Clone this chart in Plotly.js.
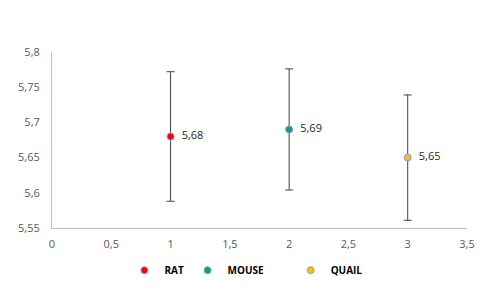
<!DOCTYPE html>
<html>
<head>
<meta charset="utf-8">
<script src="https://cdn.plot.ly/plotly-3.0.1.min.js"></script>
<style>html,body{margin:0;padding:0;background:#fff;}#chart{width:486px;height:285px;}</style>
</head>
<body>
<div id="chart"></div>
<script>
const seriesNames = ["RAT", "MOUSE", "QUAIL"];
const xValues = [1, 2, 3];
const yValues = [5.68, 5.69, 5.65];
const errPlus = [0.092, 0.086, 0.089];
const errMinus = [0.092, 0.086, 0.089];
const colors = ["#FF0000", "#12A070", "#FFC000"];
const xTicks = [0, 0.5, 1, 1.5, 2, 2.5, 3, 3.5];
const yTicks = [5.55, 5.6, 5.65, 5.7, 5.75, 5.8];
const legendIds = ["legend", "legend2", "legend3"];
const legendX = [0.256, 0.386, 0.598];

const fmt = v => String(v).replace('.', ',');

const traces = seriesNames.map((name, i) => ({
  type: 'scatter',
  mode: 'markers+text',
  name: name,
  legend: legendIds[i],
  x: [xValues[i]],
  y: [yValues[i]],
  text: ['  ' + fmt(yValues[i])],
  textposition: 'middle right',
  textfont: {family: 'Open Sans, sans-serif', size: 11, color: '#262626'},
  marker: {color: colors[i], size: 7, line: {color: '#7F9FDF', width: 1}},
  error_y: {type: 'data', symmetric: false, array: [errPlus[i]], arrayminus: [errMinus[i]],
            color: '#404040', thickness: 1, width: 4},
  cliponaxis: false
}));

const legendStyle = x => ({orientation: 'h', x: x, xref: 'container', xanchor: 'left', y: 0.052, yref: 'container', yanchor: 'middle',
           font: {size: 10, color: '#000', weight: 'bold'}, bgcolor: 'rgba(0,0,0,0)'});

const layout = {
  width: 486, height: 285,
  margin: {l: 52, r: 19, t: 52, b: 57},
  paper_bgcolor: '#fff', plot_bgcolor: '#fff',
  separators: ',.',
  showlegend: true,
  font: {family: 'Open Sans, sans-serif', size: 11, color: '#595959'},
  xaxis: {range: [0, 3.5], tickvals: xTicks, ticktext: xTicks.map(fmt), showgrid: false, zeroline: false,
          showline: true, linecolor: '#BFBFBF', linewidth: 1, ticks: 'outside', ticklen: 6, tickcolor: 'rgba(0,0,0,0)',
          tickfont: {size: 11, color: '#595959'}},
  yaxis: {range: [5.55, 5.8], tickvals: yTicks, ticktext: yTicks.map(fmt), showgrid: false, zeroline: false,
          showline: true, linecolor: '#BFBFBF', linewidth: 1, ticks: 'outside', ticklen: 9, tickcolor: 'rgba(0,0,0,0)',
          tickfont: {size: 11, color: '#595959'}},
  legend: legendStyle(legendX[0]),
  legend2: legendStyle(legendX[1]),
  legend3: legendStyle(legendX[2])
};

Plotly.newPlot('chart', traces, layout, {displayModeBar: false, staticPlot: true});
</script>
</body>
</html>
